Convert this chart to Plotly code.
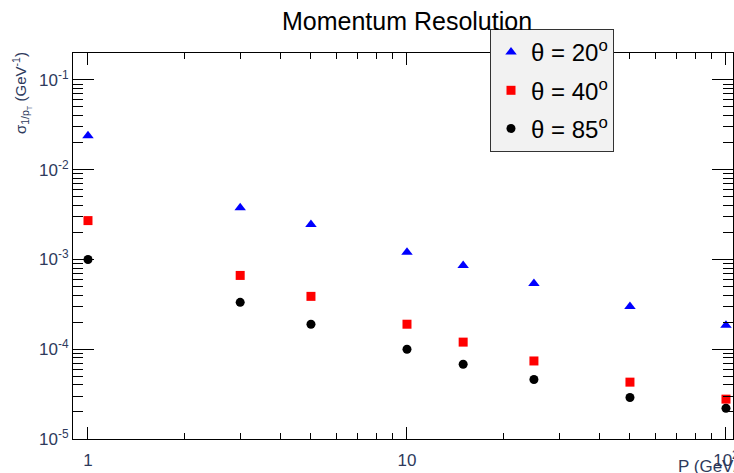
import plotly.graph_objects as go

# ---- data ----
momentum = [1, 3, 5, 10, 15, 25, 50, 100]
res_20 = [0.0239, 0.00378, 0.00245, 0.00120, 0.000858, 0.00054, 0.00030, 0.000185]
res_40 = [0.00271, 0.000664, 0.000388, 0.000190, 0.000120, 0.000074, 0.000043, 0.0000278]
res_85 = [0.00100, 0.000333, 0.000190, 0.000100, 0.000068, 0.000046, 0.000029, 0.000022]
series_names = ["θ = 20<sup>o</sup>", "θ = 40<sup>o</sup>", "θ = 85<sup>o</sup>"]

x_tickvals = [1, 10, 100]
x_ticktext = ["1", "10", "10<sup>2</sup>"]
x_minor = [2, 3, 4, 5, 6, 7, 8, 9, 20, 30, 40, 50, 60, 70, 80, 90]
y_tickvals = [1e-5, 1e-4, 1e-3, 1e-2, 1e-1]
y_ticktext = ["10<sup>-5</sup>", "10<sup>-4</sup>", "10<sup>-3</sup>", "10<sup>-2</sup>", "10<sup>-1</sup>"]
y_minor = [m * 10.0 ** e for e in range(-5, 0) for m in range(2, 10)]

W, H = 734, 473
L, R, T, B = 73, 1, 53, 34
PW, PH = W - L - R, H - T - B

fig = go.Figure()
styles = [
    dict(symbol="triangle-up", color="#0000ff", size=10),
    dict(symbol="square", color="#ff0000", size=9),
    dict(symbol="circle", color="#000000", size=9),
]
for name, vals, st in zip(series_names, [res_20, res_40, res_85], styles):
    fig.add_trace(go.Scatter(x=momentum, y=vals, mode="markers", name=name,
                             legendgroup=name, marker=st, cliponaxis=False))

tickfont = dict(family="Liberation Sans, Arial, sans-serif", size=17, color="#2e3a5c")

fig.update_layout(
    width=W, height=H,
    margin=dict(l=L, r=R, t=T, b=B, autoexpand=False),
    paper_bgcolor="white", plot_bgcolor="white",
    font=dict(family="Liberation Sans, Arial, sans-serif", color="black"),
    title=dict(text="Momentum Resolution", x=407 / W, xanchor="center",
               y=1 - 21 / H, yanchor="middle",
               font=dict(size=25, color="black")),
    showlegend=True,
    legend=dict(x=(490 - L) / PW, y=1 + (T - 29) / PH, xanchor="left", yanchor="top",
                bgcolor="#f2f2f2", bordercolor="#333333", borderwidth=1,
                font=dict(size=24, color="black"), tracegroupgap=4,
                itemwidth=30),
    xaxis=dict(type="log", range=[-0.047, 2.022], tickvals=x_tickvals, ticktext=x_ticktext,
               ticks="inside", ticklen=12, tickcolor="black", showline=True,
               linecolor="black", linewidth=1, mirror="ticks", showgrid=False,
               zeroline=False, tickfont=tickfont, ticklabelstandoff=6,
               ticklabeloverflow="allow", automargin=False,
               minor=dict(tickvals=x_minor, ticks="inside", ticklen=6,
                          tickcolor="black", showgrid=False)),
    yaxis=dict(type="log", range=[-5, -0.7], tickvals=y_tickvals, ticktext=y_ticktext,
               ticks="inside", ticklen=21, tickcolor="black", showline=True,
               linecolor="black", linewidth=1, mirror="ticks", showgrid=False,
               zeroline=False, tickfont=tickfont, ticklabeloverflow="allow",
               automargin=False,
               minor=dict(tickvals=y_minor, ticks="inside", ticklen=10,
                          tickcolor="black", showgrid=False)),
)

fig.add_annotation(text="σ<sub>1/p<sub>T</sub></sub> (GeV<sup>-1</sup>)", textangle=-90,
                   xref="paper", yref="paper", x=-51 / PW, xanchor="center",
                   y=1 + 3 / PH, yanchor="top", showarrow=False,
                   font=dict(size=15, color="#2e3a5c"))
fig.add_annotation(text="P (GeV/c)", xref="paper", yref="paper",
                   x=(676 - L) / PW, xanchor="left",
                   y=-27 / PH, yanchor="middle", showarrow=False,
                   font=dict(size=17, color="#2e3a5c"))

fig.write_html("out.html", config={"displayModeBar": False},
               post_script="document.body.style.margin='0';document.body.style.overflow='hidden';")
